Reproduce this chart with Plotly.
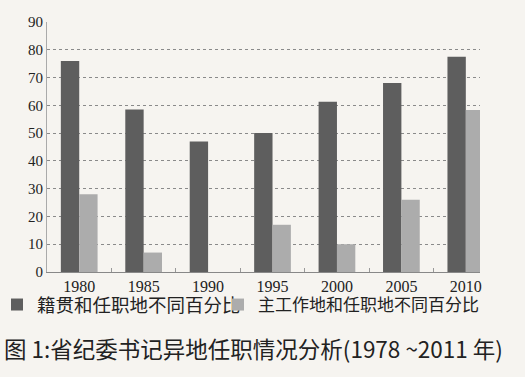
import plotly.graph_objects as go

years = ["1980", "1985", "1990", "1995", "2000", "2005", "2010"]
native_diff = [76, 58.5, 47, 50, 61.3, 68, 77.5]
work_diff = [28, 7, 0, 17, 10, 26, 58.3]
series_names = ["籍贯和任职地不同百分比", "主工作地和任职地不同百分比"]
title_text = "图 1:省纪委书记异地任职情况分析(1978 ~2011 年)"

W, H = 525, 377
L, R, T, B = 47, 45, 22, 105
pw = W - L - R
ph = H - T - B

def px_x(v):
    return (v - L) / pw

def px_y(v):
    return (T + ph - v) / ph

fig = go.Figure()
fig.add_trace(go.Bar(x=years, y=native_diff, name=series_names[0], legend="legend",
                     showlegend=True,
                     marker=dict(color="#5e5e5e", line=dict(width=0))))
fig.add_trace(go.Bar(x=years, y=work_diff, name=series_names[1], legend="legend2",
                     showlegend=True,
                     marker=dict(color="#acacac", line=dict(width=0))))

leg_common = dict(yanchor="middle", y=px_y(305), xanchor="left", visible=True,
                  itemwidth=30, bgcolor="rgba(0,0,0,0)", borderwidth=0)

fig.update_layout(
    width=W, height=H,
    margin=dict(l=L, r=R, t=T, b=B, autoexpand=False),
    showlegend=True,
    paper_bgcolor="#f6f4f0", plot_bgcolor="#f6f4f0",
    barmode="group", bargap=0.43, bargroupgap=0,
    font=dict(family="Liberation Serif, DejaVu Serif, serif", color="#222"),
    legend=dict(x=px_x(-3), font=dict(family="Noto Sans CJK SC", size=18.5, color="#222"), **leg_common),
    legend2=dict(x=px_x(218), font=dict(family="Noto Sans CJK SC", size=17, color="#222"), **leg_common),
    xaxis=dict(type="category", range=[-0.5, 6.22],
               showline=True, linecolor="#888", linewidth=1,
               ticks="inside", tickson="boundaries", ticklen=4, tickcolor="#999",
               tickfont=dict(size=16, family="Liberation Serif", color="#222"),
               showgrid=False, fixedrange=True),
    yaxis=dict(range=[0, 90], dtick=10,
               showline=True, linecolor="#aaa", linewidth=1,
               gridcolor="#8a8a8a", griddash="dot", gridwidth=1,
               tickfont=dict(size=15, family="Liberation Serif", color="#222"),
               zeroline=False, ticks="", fixedrange=True),
    annotations=[dict(text=title_text, xref="paper", yref="paper",
                      x=px_x(253), y=px_y(348),
                      xanchor="center", yanchor="middle", showarrow=False,
                      font=dict(family="Noto Sans CJK SC", size=22.5, color="#222"))],
)

fig.write_html("out.html", config={"displayModeBar": False},
               post_script="document.body.style.margin='0';document.body.style.background='#f6f4f0';")
